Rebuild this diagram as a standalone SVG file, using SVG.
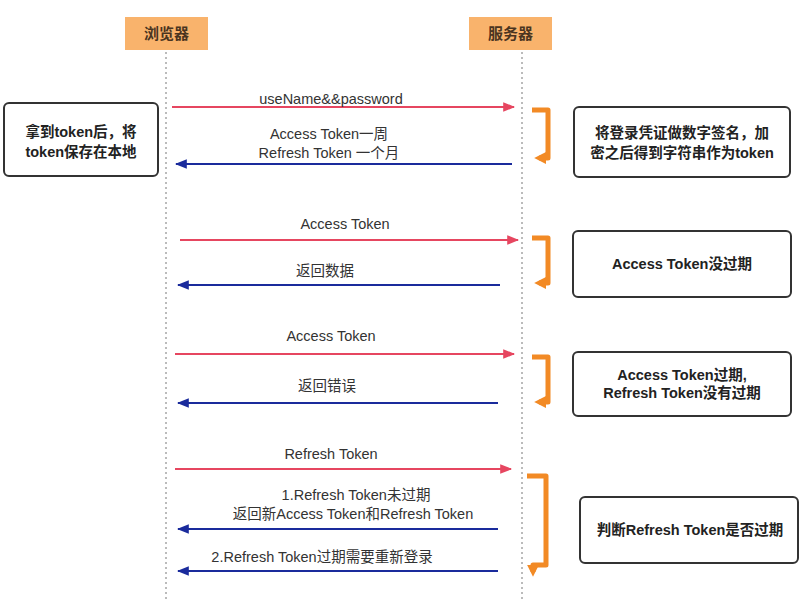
<svg xmlns="http://www.w3.org/2000/svg" width="809" height="599" viewBox="0 0 809 599">
<defs>
<style>
text{font-family:"Liberation Sans","Noto Sans CJK SC",sans-serif;fill:#333;font-size:14.5px;text-anchor:middle}
.b{font-weight:bold;fill:#222;font-size:14.5px}
.hdr rect{fill:#F9B36C}
.hdr text{font-weight:bold;fill:#4a3420;font-size:15px}
.life{stroke:#bbb;stroke-width:2;stroke-dasharray:2 3;fill:none}
.box{fill:#fff;stroke:#333;stroke-width:2}
.req{stroke:#E64660;stroke-width:2;fill:none;marker-end:url(#ar)}
.res{stroke:#1A2B9C;stroke-width:2;fill:none;marker-end:url(#ab)}
.brk{stroke:#F28A25;stroke-width:5;fill:none;stroke-linejoin:round;marker-end:url(#ao)}
</style>
<marker id="ar" viewBox="0 0 10 10" refX="9" refY="5" markerWidth="6" markerHeight="6" orient="auto" markerUnits="strokeWidth"><path d="M0,1 L10,5 L0,9 z" fill="#E64660"/></marker>
<marker id="ab" viewBox="0 0 10 10" refX="9" refY="5" markerWidth="6" markerHeight="6" orient="auto" markerUnits="strokeWidth"><path d="M0,1 L10,5 L0,9 z" fill="#1A2B9C"/></marker>
<marker id="ao" viewBox="0 0 10 10" refX="6" refY="5" markerWidth="2.4" markerHeight="2.8" orient="auto" markerUnits="strokeWidth"><path d="M0,0 L10,5 L0,10 z" fill="#F28A25"/></marker>
</defs>
<rect width="809" height="599" fill="#fff"/>
<g id="lifelines">
<line class="life" x1="166" y1="52" x2="166" y2="599"/>
<line class="life" x1="522" y1="52" x2="522" y2="599"/>
</g>
<g id="browser" class="hdr"><rect x="125" y="17" width="83" height="33"/><text x="166.5" y="39">浏览器</text></g>
<g id="server" class="hdr"><rect x="469" y="17" width="83" height="33"/><text x="510.5" y="39">服务器</text></g>
<g id="client-note"><rect class="box" x="4" y="103" width="154" height="73" rx="5"/><text class="b" x="81" y="137">拿到token后，将</text><text class="b" x="81" y="157">token保存在本地</text></g>
<g id="sign-note"><rect class="box" x="574" y="107" width="216" height="70" rx="5"/><text class="b" x="682" y="138">将登录凭证做数字签名，加</text><text class="b" x="682" y="158">密之后得到字符串作为token</text></g>
<g id="valid-note"><rect class="box" x="573" y="231" width="218" height="66" rx="5"/><text class="b" x="682" y="269">Access Token没过期</text></g>
<g id="expired-note"><rect class="box" x="573" y="352" width="218" height="64" rx="5"/><text class="b" x="682" y="380">Access Token过期,</text><text class="b" x="682" y="398">Refresh Token没有过期</text></g>
<g id="refresh-note"><rect class="box" x="580" y="497" width="218" height="66" rx="5"/><text class="b" x="690" y="535">判断Refresh Token是否过期</text></g>
<g id="connectors">
<line class="req" x1="172" y1="107" x2="514" y2="107"/>
<line class="res" x1="512" y1="164" x2="176" y2="164"/>
<line class="req" x1="180" y1="240" x2="518" y2="240"/>
<line class="res" x1="500" y1="285" x2="178" y2="285"/>
<line class="req" x1="175" y1="354" x2="514" y2="354"/>
<line class="res" x1="498" y1="403" x2="178" y2="403"/>
<line class="req" x1="175" y1="469" x2="511" y2="469"/>
<line class="res" x1="498" y1="529" x2="178" y2="529"/>
<line class="res" x1="498" y1="571" x2="178" y2="571"/>
<path class="brk" d="M532,110 H548 V158 H539"/>
<path class="brk" d="M532,238 H548 V283 H539"/>
<path class="brk" d="M532,357 H548 V402 H539"/>
<path class="brk" d="M527,476 H546 V565 H533 V572"/>
</g>
<g id="labels">
<text x="331" y="104">useName&amp;&amp;password</text>
<text x="329" y="139">Access Token一周</text>
<text x="329" y="158">Refresh Token 一个月</text>
<text x="345" y="229">Access Token</text>
<text x="325" y="276">返回数据</text>
<text x="331" y="341">Access Token</text>
<text x="327" y="391">返回错误</text>
<text x="331" y="459">Refresh Token</text>
<text x="356" y="500">1.Refresh Token未过期</text>
<text x="353" y="519">返回新Access Token和Refresh Token</text>
<text x="322" y="562">2.Refresh Token过期需要重新登录</text>
</g>
</svg>
